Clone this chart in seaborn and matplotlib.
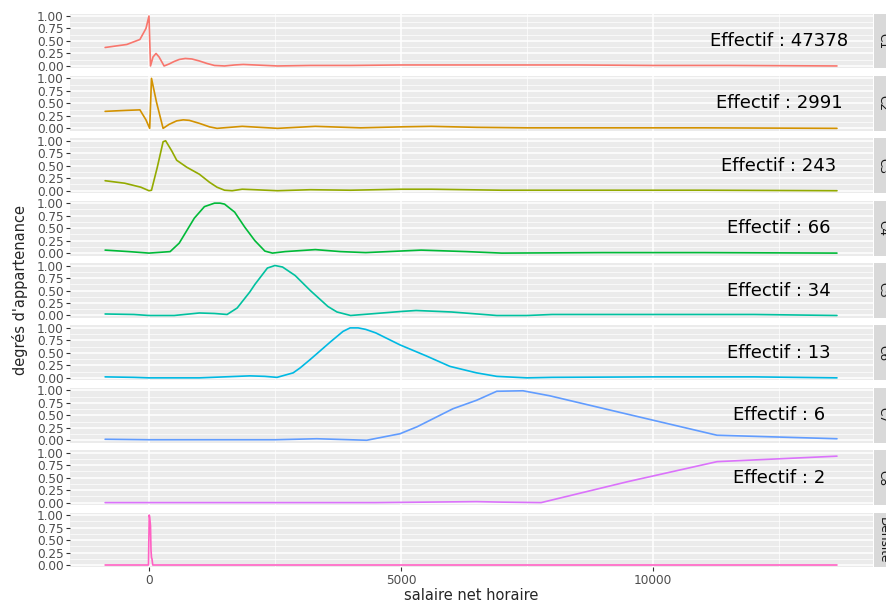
import pandas as pd
import matplotlib.pyplot as plt
import seaborn as sns
from matplotlib.ticker import MultipleLocator
from matplotlib.patches import Rectangle

# Degrés d'appartenance (salaire net horaire -> degré)
x1 = [-870, -440, -180, -60, 0, 30, 80, 140, 200, 300, 400, 500, 600, 720, 850, 1000, 1150, 1300, 1500, 1700, 1870, 2100, 2550,
      3200, 4000, 5000, 6000, 7000, 8500, 10000, 11500, 13650]
y1 = [0.37, 0.43, 0.53, 0.75, 1.00, 0.00, 0.18, 0.25, 0.18, 0.00, 0.04, 0.09, 0.13, 0.15, 0.14, 0.10, 0.05, 0.01, 0.00, 0.02, 0.03, 0.02, 0.00,
      0.01, 0.01, 0.02, 0.02, 0.02, 0.02, 0.01, 0.01, 0.00]

x2 = [-870, -440, -180, -60, 14, 50, 150, 280, 400, 550, 680, 800, 1000, 1200, 1350, 1600, 1850, 2200, 2550, 3300, 4200, 5000, 5600,
      6500, 7500, 9000, 11000, 13650]
y2 = [0.34, 0.36, 0.37, 0.17, 0.00, 1.00, 0.52, 0.00, 0.08, 0.15, 0.17, 0.16, 0.10, 0.03, 0.00, 0.02, 0.04, 0.02, 0.00, 0.04, 0.01, 0.03, 0.04,
      0.02, 0.01, 0.01, 0.01, 0.00]

x3 = [-870, -480, -160, 0, 50, 165, 280, 330, 450, 550, 750, 1000, 1200, 1350, 1500, 1650, 1850, 2100, 2550, 3200, 4000, 5000, 5600,
      7000, 9000, 11000, 13650]
y3 = [0.20, 0.15, 0.07, 0.00, 0.01, 0.47, 0.98, 1.00, 0.80, 0.61, 0.47, 0.33, 0.17, 0.07, 0.01, 0.00, 0.03, 0.02, 0.00, 0.02, 0.01, 0.03, 0.03,
      0.01, 0.01, 0.01, 0.00]

x4 = [-870, -400, 0, 420, 600, 750, 900, 1100, 1300, 1410, 1500, 1700, 1900, 2100, 2300, 2450, 2700, 3300, 3800, 4300, 5400, 6300,
      7000, 9000, 11000, 13650]
y4 = [0.06, 0.03, 0.00, 0.03, 0.20, 0.45, 0.70, 0.93, 1.00, 1.00, 0.98, 0.82, 0.52, 0.25, 0.04, 0.00, 0.03, 0.07, 0.03, 0.01, 0.06, 0.03,
      0.00, 0.01, 0.01, 0.00]

x5 = [-870, -300, 0, 500, 1000, 1300, 1550, 1750, 2000, 2100, 2350, 2500, 2650, 2900, 3200, 3550, 3730, 4000, 4500, 5000, 5300, 6000,
      6900, 7500, 8000, 10000, 12000, 13650]
y5 = [0.03, 0.02, 0.00, 0.00, 0.05, 0.04, 0.02, 0.15, 0.47, 0.62, 0.95, 1.00, 0.97, 0.80, 0.50, 0.18, 0.07, 0.00, 0.04, 0.08, 0.10, 0.07,
      0.00, 0.00, 0.02, 0.02, 0.02, 0.00]

x6 = [-870, -300, 0, 1000, 2000, 2300, 2540, 2860, 3000, 3190, 3350, 3600, 3850, 3990, 4150, 4300, 4500, 4980, 5500, 5970, 6500,
      6900, 7500, 8000, 10000, 12000, 13650]
y6 = [0.02, 0.01, 0.00, 0.00, 0.04, 0.03, 0.01, 0.10, 0.20, 0.36, 0.50, 0.72, 0.93, 1.00, 1.00, 0.97, 0.90, 0.66, 0.44, 0.23, 0.10,
      0.03, 0.00, 0.01, 0.02, 0.02, 0.00]

x7 = [-870, 0, 1500, 2500, 3330, 4320, 4980, 5320, 6030, 6500, 6900, 7420, 7950, 9500, 11270, 13650]
y7 = [0.02, 0.01, 0.01, 0.01, 0.03, 0.00, 0.13, 0.27, 0.63, 0.80, 0.98, 0.99, 0.89, 0.52, 0.10, 0.03]

x8 = [-870, 1000, 3000, 4500, 5500, 6500, 7000, 7780, 9500, 11270, 13650]
y8 = [0.00, 0.00, 0.00, 0.00, 0.01, 0.02, 0.01, 0.00, 0.42, 0.82, 0.93]

x9 = [-870, -10, 5, 15, 30, 40, 50, 60, 75, 13650]
y9 = [0.00, 0.00, 1.00, 0.95, 0.78, 0.30, 0.15, 0.12, 0.00, 0.00]

classes = ["C1", "C2", "C3", "C4", "C5", "C6", "C7", "C8", "Densité"]
effectifs = [47378, 2991, 243, 66, 34, 13, 6, 2, None]
couleurs = ["#F8766D", "#D39200", "#93AA00", "#00BA38", "#00C19F",
            "#00B9E3", "#619CFF", "#DB72FB", "#FF61C3"]

xs = [x1, x2, x3, x4, x5, x6, x7, x8, x9]
ys = [y1, y2, y3, y4, y5, y6, y7, y8, y9]
df = pd.concat([pd.DataFrame({"salaire": x, "degre": y, "classe": c})
                for x, y, c in zip(xs, ys, classes)], ignore_index=True)

sns.set_theme(style="darkgrid", rc={"axes.facecolor": "#EBEBEB", "grid.color": "white"})
plt.rcParams['font.family'] = ['DejaVu Sans']

W, H = 886, 604
fig, axes = plt.subplots(9, 1, figsize=(W / 100, H / 100), dpi=100, sharex=True, sharey=True)
fig.subplots_adjust(left=70 / W, right=873 / W, top=1 - 13.5 / H, bottom=1 - 567.5 / H, hspace=0.135)

for i, (ax, cl) in enumerate(zip(axes, classes)):
    sns.lineplot(data=df[df["classe"] == cl], x="salaire", y="degre", color=couleurs[i],
                 lw=1.2, ax=ax, legend=False)
    ax.set_xlim(-1567, 14365)
    ax.set_ylim(-0.05, 1.05)
    ax.set_yticks([0, 0.25, 0.5, 0.75, 1.0])
    ax.set_yticklabels(["0.00", "0.25", "0.50", "0.75", "1.00"])
    ax.set_xticks([0, 5000, 10000])
    ax.yaxis.set_minor_locator(MultipleLocator(0.125))
    ax.xaxis.set_minor_locator(MultipleLocator(2500))
    ax.grid(which="major", color="white", lw=1.1)
    ax.grid(which="minor", color="white", lw=0.5)
    ax.set_xlabel("")
    ax.set_ylabel("")
    for s in ax.spines.values():
        s.set_visible(False)
    ax.tick_params(which="major", length=3, width=0.8, color="#333333", pad=1.5,
                   labelsize=8.7, labelcolor="#4D4D4D", left=True, bottom=(i == 8))
    ax.tick_params(which="minor", length=0)

    # bandeau de facette à droite (coupé par le bord comme dans l'original)
    ax.add_patch(Rectangle((1.0015, 0), 30 / 803, 1, transform=ax.transAxes,
                           clip_on=False, facecolor="#D9D9D9", edgecolor="none"))
    ax.text((883 - 70) / 803, 0.5, cl, transform=ax.transAxes, rotation=-90,
            ha="center", va="center", fontsize=8.7, color="#1A1A1A")

    if effectifs[i] is not None:
        ax.text(12500, 0.5, f"Effectif : {effectifs[i]}", ha="center", va="center",
                fontsize=13, color="black")

fig.text(471.5 / W, 1 - 596 / H, "salaire net horaire", ha="center", va="center", fontsize=10.5)
fig.text(20 / W, 1 - 290 / H, "degrés d'appartenance", ha="center", va="center",
         rotation=90, fontsize=10.5)

fig.savefig("out.png", dpi=100)
